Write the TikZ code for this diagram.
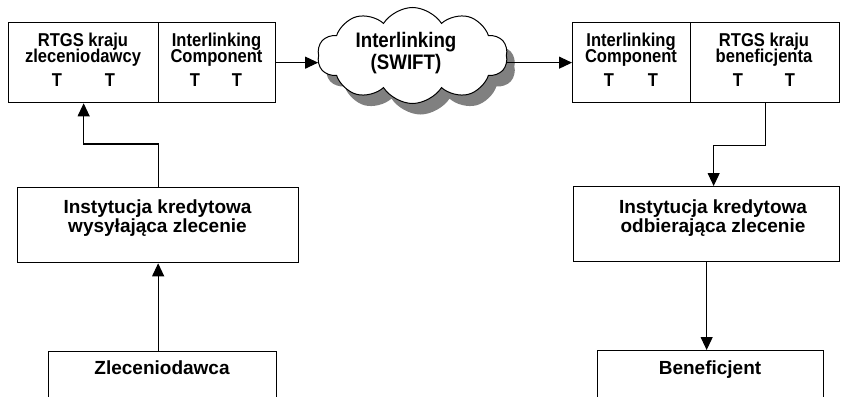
\documentclass[tikz,border=0pt]{standalone}
\usepackage{fontspec}
\setmainfont{Liberation Sans}
\newfontfamily\narrowsans[FakeStretch=0.89]{Liberation Sans}
\usetikzlibrary{shapes.symbols,arrows.meta}
\definecolor{shadowgray}{HTML}{808080}
\begin{document}
\begin{tikzpicture}[x=1pt,y=-1pt,
  box/.style={draw, line width=1.3pt, fill=white, inner sep=0pt, anchor=north west},
  txt/.style={anchor=base, inner sep=0pt, font=\fontsize{19}{22}\selectfont\bfseries},
  toptxt/.style={anchor=base, inner sep=0pt, font=\narrowsans\fontsize{18.6}{20}\selectfont\bfseries},
  cloudtxt/.style={anchor=base, inner sep=0pt, font=\narrowsans\fontsize{21}{22}\selectfont\bfseries},
  puff/.style={cloud, cloud puffs=10, cloud puff arc=115, cloud ignores aspect,
    minimum width=190pt, minimum height=96pt, inner sep=0pt},
  conn/.style={line width=1.1pt, -{Triangle[length=13pt,width=12pt]}}]
\useasboundingbox (0,0) rectangle (842,396);
\clip (0,0) rectangle (842,396);

% top row: sending RTGS and its interlinking component
\node[box, minimum width=150pt, minimum height=80pt] (rtgsL) at (8,22) {};
\node[box, minimum width=117pt, minimum height=80pt] (icL) at (158,22) {};
\node[toptxt] (rtgsL1) at (83,46) {RTGS kraju};
\node[toptxt] (rtgsL2) at (83,63) {zleceniodawcy};
\node[toptxt] (rtgsLT1) at (57,86) {T};
\node[toptxt] (rtgsLT2) at (110,86) {T};
\node[toptxt] (icL1) at (216.5,46) {Interlinking};
\node[toptxt] (icL2) at (216.5,63) {Component};
\node[toptxt] (icLT1) at (195,86) {T};
\node[toptxt] (icLT2) at (237,86) {T};

% top row: receiving interlinking component and RTGS
\node[box, minimum width=118pt, minimum height=80pt] (icR) at (572,22) {};
\node[box, minimum width=149pt, minimum height=80pt] (rtgsR) at (690,22) {};
\node[toptxt] (icR1) at (631,46) {Interlinking};
\node[toptxt] (icR2) at (631,63) {Component};
\node[toptxt] (icRT1) at (609,86) {T};
\node[toptxt] (icRT2) at (653,86) {T};
\node[toptxt] (rtgsR1) at (764,46) {RTGS kraju};
\node[toptxt] (rtgsR2) at (764,63) {beneficjenta};
\node[toptxt] (rtgsRT1) at (738,86) {T};
\node[toptxt] (rtgsRT2) at (790,86) {T};

% SWIFT cloud with its drop shadow
\node[puff, fill=shadowgray] (cloudshadow) at (420.5,66.5) {};
\node[puff, draw, line width=1pt, fill=white] (cloud) at (412.5,55.5) {};
\node[cloudtxt] (cloud1) at (406,48) {Interlinking};
\node[cloudtxt] (cloud2) at (406,70) {(SWIFT)};

% credit institutions
\node[box, minimum width=281pt, minimum height=75pt] (instL) at (17,187) {};
\node[txt] (instL1) at (157.5,213) {Instytucja kredytowa};
\node[txt] (instL2) at (157.5,232) {wysyłająca zlecenie};
\node[box, minimum width=266pt, minimum height=75pt] (instR) at (573,186) {};
\node[txt] (instR1) at (713,213) {Instytucja kredytowa};
\node[txt] (instR2) at (713,232) {odbierająca zlecenie};

% payer and beneficiary
\node[box, minimum width=228pt, minimum height=80pt] (zlec) at (48,351) {};
\node[txt] (zlec1) at (162,374) {Zleceniodawca};
\node[box, minimum width=226pt, minimum height=80pt] (benef) at (597,350) {};
\node[txt] (benef1) at (710,374) {Beneficjent};

% flow of the payment order
\draw[conn] (instL.south |- zlec.north) -- (instL.south);
\draw[conn] (instL.north) -- ++(0,-43) -| (rtgsL.south);
\draw[conn] (icL.east) -- (icL.east -| cloud.west);
\draw[conn] (cloud.east |- icR.west) -- (icR.west);
\draw[conn] (rtgsR.south) -- ++(0,42) -| ([xshift=7pt]instR.north);
\draw[conn] (instR.south) -- (instR.south |- benef.north);
\end{tikzpicture}
\end{document}
